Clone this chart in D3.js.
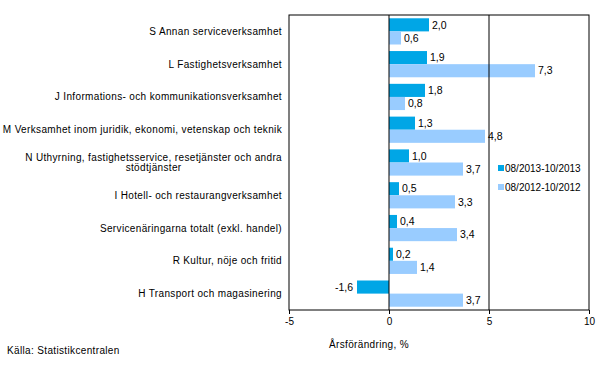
<!DOCTYPE html>
<html>
<head>
<meta charset="utf-8">
<script src="https://cdn.jsdelivr.net/npm/d3@7"></script>
<style>
body { margin: 0; background: #fff; }
text { font-family: "Liberation Sans", Arial, sans-serif; font-size: 10px; fill: #000; }
text.cat, text.title { letter-spacing: 0.35px; }
</style>
</head>
<body>
<div id="chart-area"></div>
<script>
// data
const categories = [
	["S Annan serviceverksamhet"],
	["L Fastighetsverksamhet"],
	["J Informations- och kommunikationsverksamhet"],
	["M Verksamhet inom juridik, ekonomi, vetenskap och teknik"],
	["N Uthyrning, fastighetsservice, resetjänster och andra", "stödtjänster"],
	["I Hotell- och restaurangverksamhet"],
	["Servicenäringarna totalt (exkl. handel)"],
	["R Kultur, nöje och fritid"],
	["H Transport och magasinering"]
];
const series2013 = [2.0, 1.9, 1.8, 1.3, 1.0, 0.5, 0.4, 0.2, -1.6];
const series2012 = [0.6, 7.3, 0.8, 4.8, 3.7, 3.3, 3.4, 1.4, 3.7];
const seriesNames = ["08/2013-10/2013", "08/2012-10/2012"];
const colors = ["#00a6e6", "#99ccff"];
const xTicks = [-5, 0, 5, 10];

var margin = { top: 15, right: 15, bottom: 64, left: 289 };
var width = 604 - margin.left - margin.right,
	height = 374 - margin.top - margin.bottom;

var svg = d3.select("#chart-area")
	.append("svg")
		.attr("width", 604)
		.attr("height", 374);

var g = svg.append("g")
	.attr("transform", "translate(" + margin.left + ", " + margin.top + ")");

var x = d3.scaleLinear().domain([-5, 10]).range([0, width]);

var y = d3.scaleBand()
	.domain(d3.range(categories.length))
	.range([0, height])
	.paddingInner(0.2)
	.paddingOuter(0.1);

var sub = d3.scaleBand()
	.domain([0, 1])
	.range([0, y.bandwidth()]);

var data = [];
categories.forEach((c, i) => {
	data.push({ i: i, s: 0, v: series2013[i] });
	data.push({ i: i, s: 1, v: series2012[i] });
});

// comma decimals, plain hyphen for minus
var fmt = (v) => d3.format(".1f")(v).replace(".", ",").replace("\u2212", "-");

// bars
g.selectAll("rect.bar")
	.data(data)
	.enter().append("rect")
		.attr("class", "bar")
		.attr("x", (d) => x(Math.min(0, d.v)))
		.attr("y", (d) => y(d.i) + sub(d.s))
		.attr("width", (d) => Math.abs(x(d.v) - x(0)))
		.attr("height", sub.bandwidth())
		.attr("fill", (d) => colors[d.s]);

// value labels
g.selectAll("text.val")
	.data(data)
	.enter().append("text")
		.attr("class", "val")
		.attr("x", (d) => d.v < 0 ? x(d.v) - 4 : x(d.v) + 3)
		.attr("y", (d) => y(d.i) + sub(d.s) + sub.bandwidth() / 2)
		.attr("dy", "0.35em")
		.attr("text-anchor", (d) => d.v < 0 ? "end" : "start")
		.style("font-size", "10.5px")
		.text((d) => fmt(d.v));

// grid lines at 0 and 5
g.selectAll("line.grid")
	.data([0, 5])
	.enter().append("line")
		.attr("x1", (d) => x(d)).attr("x2", (d) => x(d))
		.attr("y1", 0).attr("y2", height)
		.attr("stroke", "#000");

// frame
g.append("rect")
	.attr("x", 0).attr("y", 0)
	.attr("width", width).attr("height", height)
	.attr("fill", "none")
	.attr("stroke", "#000");

// x-axis
var xAxisCall = d3.axisBottom(x).tickValues(xTicks).tickSize(4).tickPadding(4)
	.tickFormat((d) => String(d));
var xAxisGroup = g.append("g")
	.attr("transform", "translate(0, " + height + ")")
	.call(xAxisCall);
xAxisGroup.select(".domain").remove();
xAxisGroup.selectAll("text").style("font-size", "10px").style("font-family", "Liberation Sans, Arial, sans-serif");

// category labels
var labels = svg.selectAll("text.cat")
	.data(categories)
	.enter().append("text")
		.attr("class", "cat")
		.attr("y", (d, i) => margin.top + y(i) + y.bandwidth() / 2);

labels.each(function(d) {
	var t = d3.select(this);
	if (d.length === 1) {
		t.attr("x", 282).attr("text-anchor", "end").attr("dy", "0.35em").text(d[0]);
	} else {
		t.attr("text-anchor", "middle");
		var tmp = t.append("tspan").text(d[0]);
		var w = tmp.node().getComputedTextLength();
		tmp.remove();
		d.forEach((line, k) => {
			t.append("tspan")
				.attr("x", 282 - w / 2)
				.attr("dy", k === 0 ? "-0.15em" : "1.0em")
				.text(line);
		});
	}
});

// legend
var legend = svg.append("g").attr("transform", "translate(498, 168)");
seriesNames.forEach((name, k) => {
	legend.append("rect")
		.attr("x", 0).attr("y", k * 19 - 3)
		.attr("width", 6).attr("height", 6)
		.attr("fill", colors[k]);
	legend.append("text")
		.attr("x", 7).attr("y", k * 19)
		.attr("dy", "0.35em")
		.text(name);
});

// axis title
svg.append("text")
	.attr("class", "title")
	.attr("x", 369).attr("y", 348)
	.attr("text-anchor", "middle")
	.text("Årsförändring, %");

// source
svg.append("text")
	.attr("class", "title")
	.attr("x", 7).attr("y", 354)
	.text("Källa: Statistikcentralen");
</script>
</body>
</html>
